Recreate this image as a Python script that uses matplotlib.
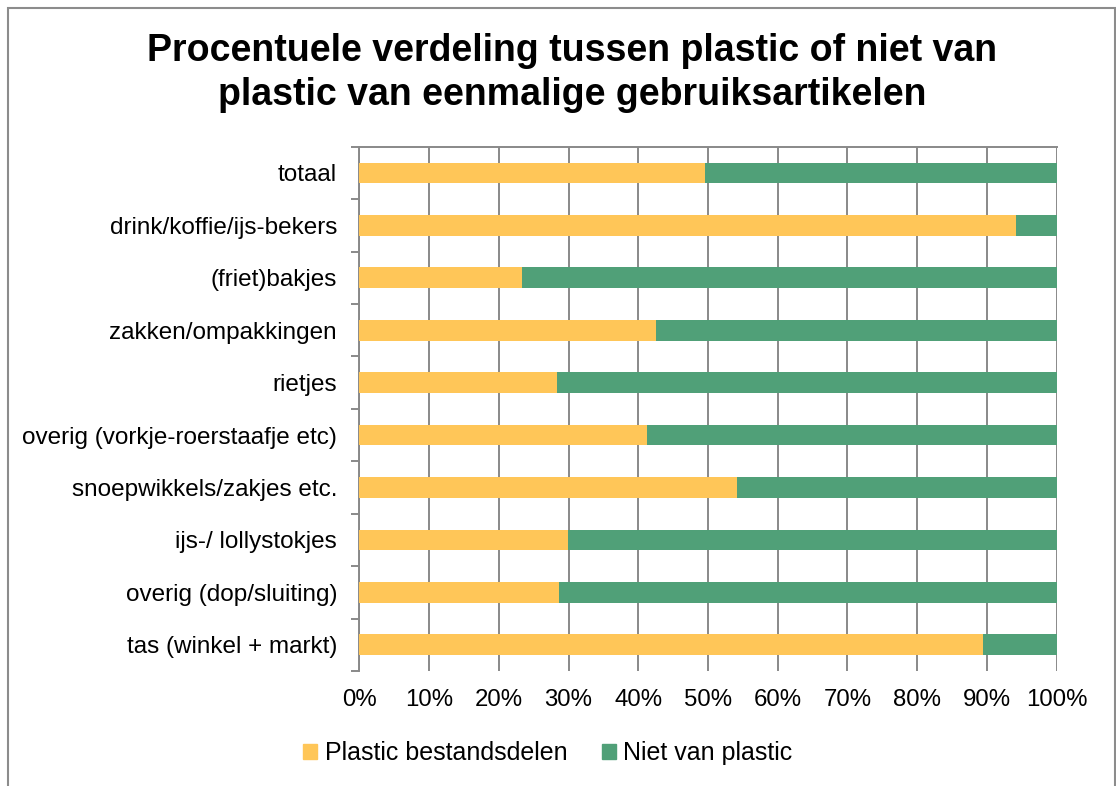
import numpy as np
import matplotlib.pyplot as plt
from matplotlib.patches import Patch, Rectangle
from matplotlib.ticker import FuncFormatter, FixedLocator

plt.rcParams['font.family'] = ['Liberation Sans', 'DejaVu Sans']

categories = [
    "totaal",
    "drink/koffie/ijs-bekers",
    "(friet)bakjes",
    "zakken/ompakkingen",
    "rietjes",
    "overig (vorkje-roerstaafje etc)",
    "snoepwikkels/zakjes etc.",
    "ijs-/ lollystokjes",
    "overig (dop/sluiting)",
    "tas (winkel + markt)",
]
plastic = [49.6, 94.2, 23.4, 42.6, 28.4, 41.2, 54.2, 29.9, 28.6, 89.4]
niet_plastic = [100 - v for v in plastic]

W, H = 1116, 786
fig = plt.figure(figsize=(W / 100, H / 100), dpi=100)
ax = fig.add_axes([359.3 / W, 1 - 671 / H, (1056.7 - 359.3) / W, (671 - 146.7) / H])

# outer frame like the spreadsheet chart border
fig.patches.append(Rectangle((8 / W, -0.05), (1115 - 8) / W, 1 - 8 / H + 0.05,
                             transform=fig.transFigure, fill=False,
                             edgecolor="#8c8c8c", lw=1.5))

y = np.arange(len(categories))
yellow = "#FFC658"
green = "#50A078"
ax.barh(y, plastic, height=0.395, color=yellow, label="Plastic bestandsdelen", zorder=3)
ax.barh(y, niet_plastic, left=plastic, height=0.395, color=green,
        label="Niet van plastic", zorder=3)

ax.set_xlim(0, 100)
ax.set_ylim(len(categories) - 0.5, -0.5)
ax.set_xticks(np.arange(0, 101, 10))
ax.xaxis.set_major_formatter(FuncFormatter(lambda v, p: f"{int(v)}%"))
ax.tick_params(axis="x", length=0, pad=13, labelsize=17.3)
ax.grid(axis="x", color="#898989", lw=1.4, zorder=0)

ax.set_yticks(y)
ax.set_yticklabels(categories, fontsize=17.5)
ax.tick_params(axis="y", which="major", length=0, pad=16)
ax.yaxis.set_minor_locator(FixedLocator(np.arange(-0.5, len(categories), 1.0)))
ax.tick_params(axis="y", which="minor", length=6, width=1.4, color="#898989")

for s in ["right", "bottom"]:
    ax.spines[s].set_visible(False)
for s in ["left", "top"]:
    ax.spines[s].set_color("#898989")
    ax.spines[s].set_linewidth(1.4)

fig.text(572 / W, 1 - 73 / H,
         "Procentuele verdeling tussen plastic of niet van\nplastic van eenmalige gebruiksartikelen",
         ha="center", va="center", fontsize=27, fontweight="bold", linespacing=1.32)

handles = [Patch(color=yellow), Patch(color=green)]
fig.legend(handles, ["Plastic bestandsdelen", "Niet van plastic"],
           loc="center", bbox_to_anchor=(548 / W, 1 - 753 / H), ncol=2,
           frameon=False, fontsize=18, handlelength=0.55, handleheight=0.55,
           handletextpad=0.3, columnspacing=1.4)

fig.savefig("out.png", dpi=100)
